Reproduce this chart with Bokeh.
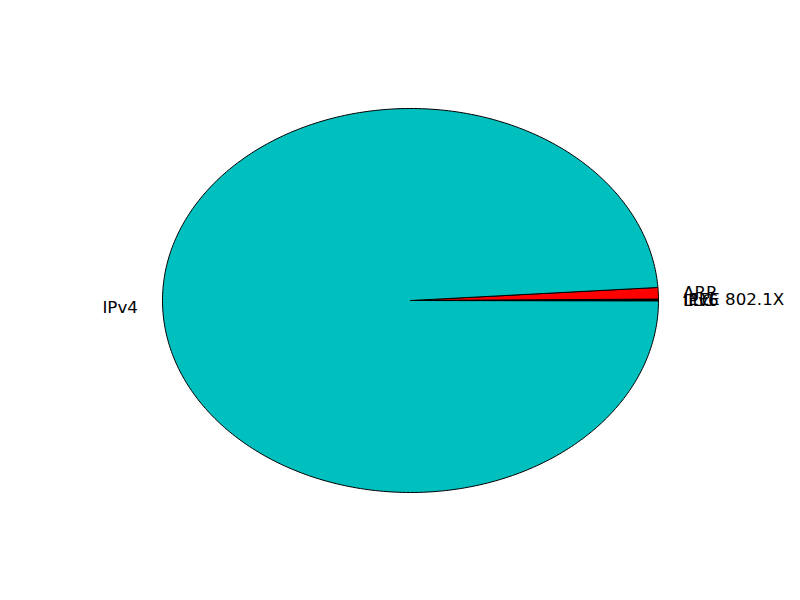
import numpy as np
from bokeh.plotting import figure
from bokeh.models import Range1d, ColumnDataSource
from bokeh.core.properties import value
from bokeh.embed import file_html
from bokeh.resources import INLINE

labels = ["LLC", "IEEE 802.1X", "ARP", "IPv4", "IPv6"]
counts = [5, 5, 80, 8230, 2]
colors = ["#0000ff", "#008000", "#ff0000", "#00bfbf", "#bf00bf"]

# frame covers the whole 800x600 canvas; ranges keep the pie at the same place/scale
p = figure(width=800, height=600, output_backend="svg", toolbar_location=None,
           x_range=Range1d(-410 / 248, 390 / 248), y_range=Range1d(-300 / 192, 300 / 192),
           min_border=0, min_border_left=0, min_border_right=0,
           min_border_top=0, min_border_bottom=0)
p.axis.visible = False
p.grid.visible = False
p.outline_line_color = None
p.background_fill_color = "white"
p.border_fill_color = "white"

vals = np.array(counts, dtype=float)
frac = vals / vals.sum()
ends = np.cumsum(frac) * 2 * np.pi
starts = ends - frac * 2 * np.pi

xs, ys, tx, ty, ta = [], [], [], [], []
for s, e in zip(starts, ends):
    n = max(3, int((e - s) / (2 * np.pi) * 400) + 2)
    t = np.linspace(s, e, n)
    xs.append([0.0] + list(np.cos(t)) + [0.0])
    ys.append([0.0] + list(np.sin(t)) + [0.0])
    m = (s + e) / 2
    tx.append(1.1 * np.cos(m))
    ty.append(1.1 * np.sin(m))
    ta.append("left" if np.cos(m) > 0 else "right")

p.patches(xs=xs, ys=ys, fill_color=colors, line_color="black", line_width=1)

src = ColumnDataSource(dict(x=tx, y=ty, text=labels, align=ta))
p.text(x="x", y="y", text="text", text_align="align", source=src,
       text_baseline="middle", text_font=value("DejaVu Sans"),
       text_font_size="16.67px", text_color="black")

open("out.html", "w").write(file_html(p, INLINE))
